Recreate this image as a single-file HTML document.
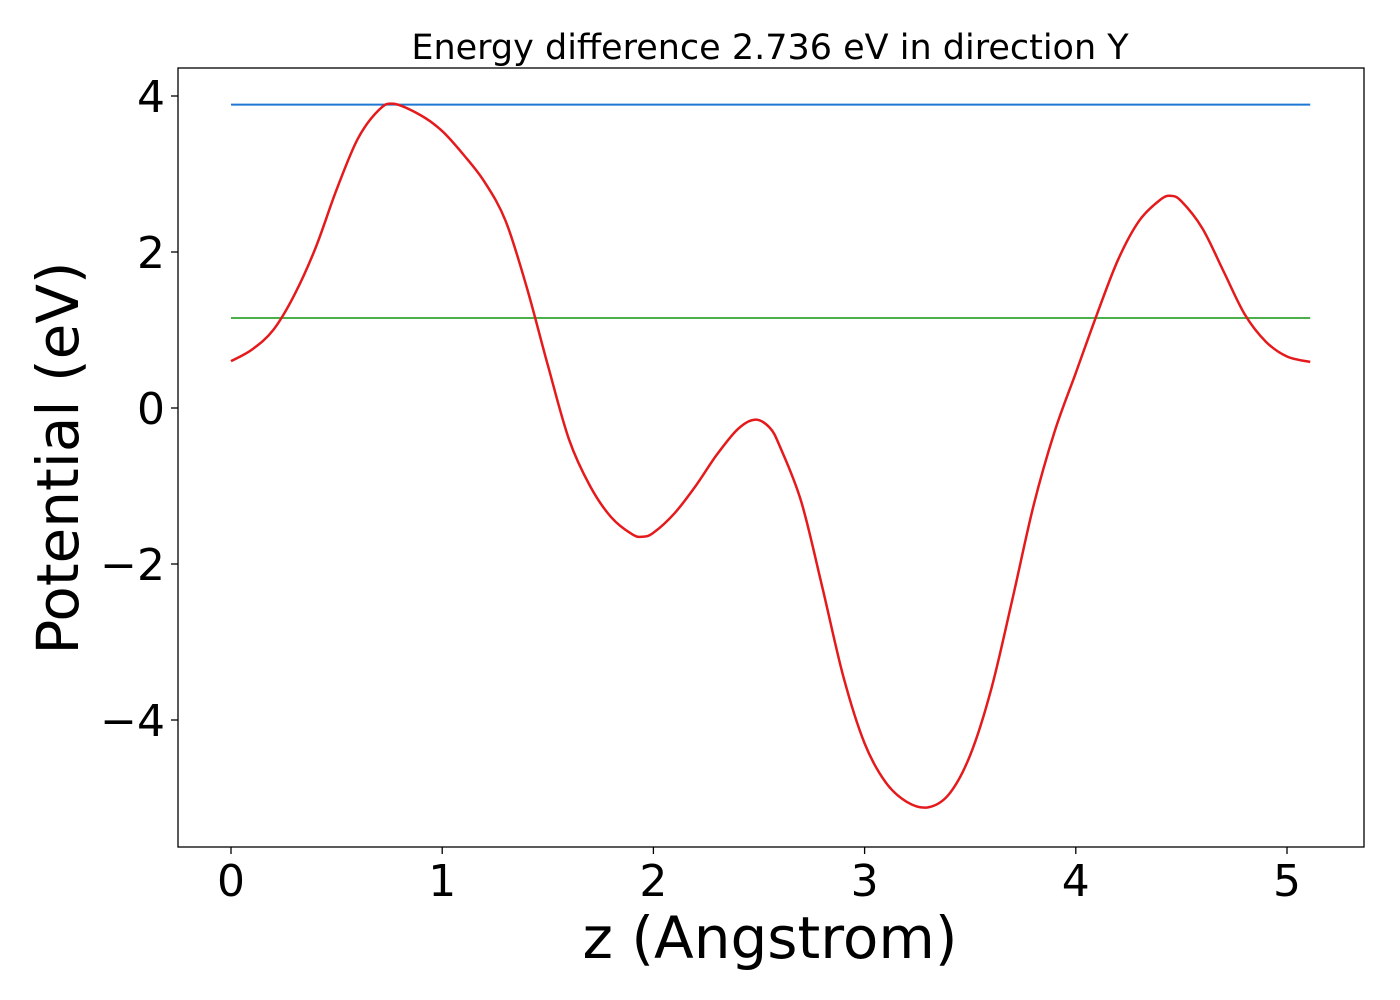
<!DOCTYPE html>
<html><head><meta charset="utf-8"><style>
html,body{margin:0;padding:0;background:#fff;}
svg{display:block;font-family:"DejaVu Sans","Liberation Sans",sans-serif;}
</style></head><body>
<svg id="chart" width="1400" height="1000">
<rect x="0" y="0" width="1400" height="1000" fill="#fff"/>
<text x="770" y="59" font-size="35" text-anchor="middle">Energy difference 2.736 eV in direction Y</text>
<g id="plot"></g>
<rect x="178" y="68" width="1186" height="779" fill="none" stroke="#000" stroke-width="1.3"/>
<text x="770" y="958" font-size="58" text-anchor="middle">z (Angstrom)</text>
<text transform="translate(78,458) rotate(-90)" font-size="58" text-anchor="middle">Potential (eV)</text>
</svg>
<script>
const zVals=[0,0.1,0.2,0.3,0.4,0.5,0.6,0.7,0.77,0.9,1.0,1.1,1.2,1.3,1.4,1.5,1.6,1.7,1.8,1.9,1.95,2.0,2.1,2.2,2.3,2.4,2.48,2.55,2.6,2.7,2.8,2.9,3.0,3.1,3.2,3.3,3.4,3.5,3.6,3.7,3.8,3.9,4.0,4.1,4.2,4.3,4.4,4.45,4.5,4.6,4.7,4.8,4.9,5.0,5.11];
const potVals=[0.6,0.75,1.0,1.45,2.05,2.8,3.45,3.82,3.9,3.75,3.55,3.25,2.9,2.4,1.55,0.55,-0.4,-1.0,-1.4,-1.62,-1.65,-1.6,-1.35,-1.0,-0.6,-0.27,-0.15,-0.25,-0.5,-1.2,-2.3,-3.45,-4.3,-4.8,-5.05,-5.12,-4.95,-4.45,-3.6,-2.45,-1.25,-0.3,0.45,1.2,1.9,2.4,2.67,2.72,2.65,2.3,1.75,1.2,0.85,0.66,0.59];
const upperLevel=[3.89];
const lowerLevel=[1.154];
const xTicks=[0,1,2,3,4,5];
const yTicks=[4,2,0,-2,-4];
const yTickLabels=["4","2","0","\u22122","\u22124"];

const X=v=>231+v*211.2;
const Y=v=>408-v*78;
const NS="http://www.w3.org/2000/svg";
const g=document.getElementById('plot');
function mk(t,a){const e=document.createElementNS(NS,t);for(const k in a)e.setAttribute(k,a[k]);g.appendChild(e);return e;}

xTicks.forEach(t=>{
  const l=mk('line',{x1:X(t),x2:X(t),y1:847,y2:854,stroke:'#000','stroke-width':1.3});
  
  
  const s=mk('text',{x:X(t),y:896,'font-size':44,'text-anchor':'middle'});
  s.textContent=String(t);
  
  
});
yTicks.forEach((t,i)=>{
  const l=mk('line',{x1:171,x2:178,y1:Y(t),y2:Y(t),stroke:'#000','stroke-width':1.3});
  
  
  const s=mk('text',{x:165,y:Y(t)+16,'font-size':44,'text-anchor':'end'});
  s.textContent=yTickLabels[i];
  
  
});
const x0=X(zVals[0]),x1=X(zVals[zVals.length-1]);
const bl=mk('line',{x1:x0,x2:x1,y1:Y(upperLevel[0]),y2:Y(upperLevel[0]),stroke:'#1f77d4','stroke-width':2});


const gl=mk('line',{x1:x0,x2:x1,y1:Y(lowerLevel[0]),y2:Y(lowerLevel[0]),stroke:'#4daf4a','stroke-width':2});


const pts=zVals.map((z,i)=>[X(z),Y(potVals[i])]);
let d='M'+pts[0][0]+','+pts[0][1];
for(let i=0;i<pts.length-1;i++){
  const p0=pts[Math.max(0,i-1)],p1=pts[i],p2=pts[i+1],p3=pts[Math.min(pts.length-1,i+2)];
  const c1=[p1[0]+(p2[0]-p0[0])/6,p1[1]+(p2[1]-p0[1])/6];
  const c2=[p2[0]-(p3[0]-p1[0])/6,p2[1]-(p3[1]-p1[1])/6];
  d+=` C${c1[0]},${c1[1]} ${c2[0]},${c2[1]} ${p2[0]},${p2[1]}`;
}
const rl=mk('path',{d:d,fill:'none',stroke:'#e41a1c','stroke-width':2.5});


</script>
</body></html>
